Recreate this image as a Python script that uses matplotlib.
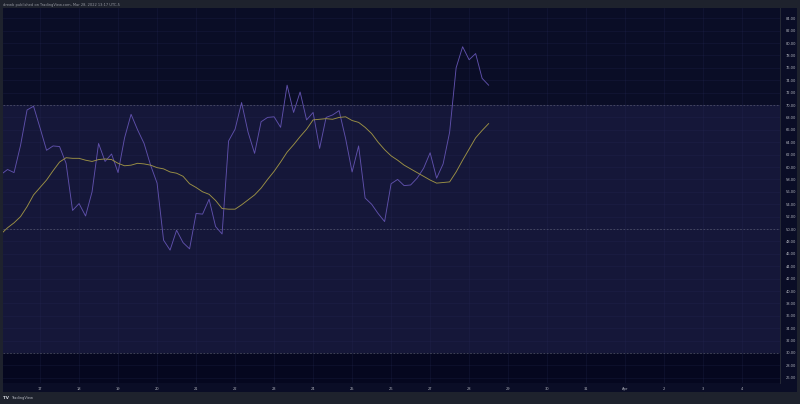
import matplotlib
matplotlib.use("Agg")
import matplotlib.pyplot as plt
import numpy as np

# RSI (4h bars starting Mar 16 00:00) and its moving average
rsi = [58.8, 59.6, 59.1, 63.5, 69.2, 69.8, 66.3, 62.7, 63.4, 63.3,
       60.6, 53.0, 54.1, 52.1, 56.0, 63.8, 60.9, 62.1, 59.1, 64.7,
       68.5, 66.0, 63.8, 60.3, 57.4, 48.2, 46.6, 49.8, 47.8, 46.8,
       52.5, 52.4, 54.8, 50.4, 49.2, 64.2, 66.1, 70.4, 65.6, 62.2,
       67.3, 68.0, 68.1, 66.4, 73.2, 68.8, 72.1, 67.6, 68.8, 63.0,
       68.0, 68.4, 69.1, 64.6, 59.2, 63.4, 55.0, 54.0, 52.5, 51.2,
       57.3, 58.0, 57.0, 57.1, 58.2, 59.8, 62.3, 58.2, 60.5, 65.6,
       76.0, 79.4, 77.3, 78.3, 74.3, 73.2]
rsi_ma = [49.2, 50.2, 51.0, 52.0, 53.6, 55.5, 56.7, 57.9, 59.4, 60.8,
          61.5, 61.4, 61.4, 61.1, 60.9, 61.2, 61.3, 61.2, 60.6, 60.2,
          60.3, 60.6, 60.5, 60.3, 59.9, 59.7, 59.2, 59.0, 58.5, 57.3,
          56.7, 56.0, 55.6, 54.6, 53.3, 53.2, 53.2, 53.9, 54.7, 55.5,
          56.6, 58.0, 59.3, 60.8, 62.4, 63.6, 64.9, 66.1, 67.6, 67.7,
          67.8, 67.7, 68.0, 68.1, 67.5, 67.2, 66.4, 65.4, 64.0, 62.8,
          61.8, 61.1, 60.3, 59.7, 59.1, 58.5, 57.9, 57.4, 57.5, 57.6,
          59.2, 61.1, 62.9, 64.7, 65.9, 67.0]
start_day = 16          # Mar 16, bars every 4 hours
bars_per_day = 6

x_ticks = list(range(17, 36))      # Mar 17 .. Apr 4 (Apr 1 = day 32)
x_labels = [str(d) for d in range(17, 32)] + ["Apr", "2", "3", "4"]
y_ticks = list(range(26, 85, 2))
levels = [70, 50, 30]

header = "drewb published on TradingView.com, Mar 28, 2022 13:17 UTC-5"

W, H = 800, 404
fig = plt.figure(figsize=(W / 100, H / 100), dpi=100, facecolor="#1e222d")

# navy panel behind plot + axis strips
bg = fig.add_axes([3 / W, 1 - 392 / H, 794 / W, 384 / H])
bg.set_facecolor("#0a0d26"); bg.set_xticks([]); bg.set_yticks([])
for s in bg.spines.values():
    s.set_visible(False)

ax = fig.add_axes([3 / W, 1 - 383 / H, 777 / W, 375 / H])
ax.set_facecolor("#0a0d26")
ax.set_xlim(16.05, 35.97)
ax.set_ylim(25.16, 85.65)
ax.axhspan(30, 70, color="#151739", lw=0, zorder=0)
ax.axhspan(20, 30, color="#05071f", lw=0, zorder=0)

for yv in y_ticks:
    ax.axhline(yv, color="#2a2d5c", lw=0.5, alpha=0.3, zorder=1)
for xv in x_ticks:
    ax.axvline(xv, color="#2a2d5c", lw=0.5, alpha=0.3, zorder=1)
for lv in levels:
    ax.axhline(lv, color="#787b86", lw=0.6, ls=(0, (2, 2)), alpha=0.55, zorder=2)

xs = start_day + np.arange(len(rsi)) / bars_per_day
ax.plot(xs, rsi, color="#5f50ab", lw=0.65, zorder=3)
ax.plot(xs, rsi_ma, color="#9c9145", lw=0.65, zorder=4)

ax.yaxis.tick_right()
ax.set_yticks(y_ticks)
ax.set_yticklabels([f"{v:.2f}" for v in y_ticks])
ax.set_xticks(x_ticks)
ax.set_xticklabels(x_labels)
ax.tick_params(axis="both", length=0, colors="#b2b5be", labelsize=2.6)
ax.tick_params(axis="y", pad=4)
ax.tick_params(axis="x", pad=3)
for s in ax.spines.values():
    s.set_visible(False)
ax.spines["right"].set_visible(True)
ax.spines["right"].set_color("#2a2e39")
ax.spines["right"].set_linewidth(0.6)

fig.text(3 / W, 1 - 5 / H, header, color="#9598a1", fontsize=2.6, va="center", ha="left")
fig.text(3 / W, 1 - 398 / H, "TV", color="#d1d4dc", fontsize=3, fontweight="bold", va="center", ha="left")
fig.text(11 / W, 1 - 398 / H, "TradingView", color="#b2b5be", fontsize=2.6, va="center", ha="left")

fig.savefig("out.png", dpi=100, facecolor=fig.get_facecolor())
